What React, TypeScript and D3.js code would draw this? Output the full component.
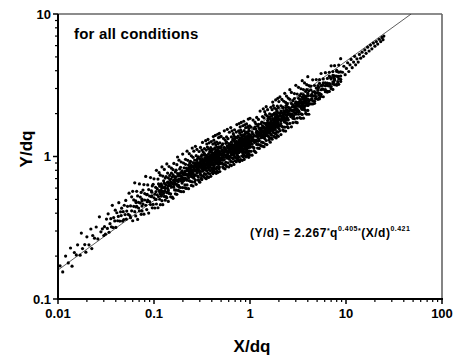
import React from "react";
import * as d3 from "d3";

// ---- scatter data: [X/dq, [Y/dq values at that X]] ----
const tailLow: [number, number[]][] = [
  [0.0105,[0.171]],[0.0112,[0.155]],[0.012,[0.2]],[0.0128,[0.179]],[0.0135,[0.228]],[0.014,[0.17]],[0.0148,[0.212]],[0.0155,[0.204]],[0.016,[0.24]],[0.017,[0.203]],[0.0175,[0.29]],[0.018,[0.226]],[0.019,[0.241]],[0.0195,[0.213]],[0.02,[0.273]],[0.021,[0.24]],[0.022,[0.31]],[0.0225,[0.226]],[0.023,[0.279]],[0.024,[0.267]],[0.025,[0.32]],[0.026,[0.264]],[0.027,[0.377]],[0.028,[0.296]],[0.029,[0.311]],[0.03,[0.279]],
];
const bandA: [number, number[]][] = [
  [0.0305,[0.322]],[0.0312,[0.285]],[0.032,[0.364]],[0.0327,[0.313]],[0.0333,[0.396]],[0.034,[0.294]],[0.0348,[0.338]],[0.0355,[0.366]],[0.036,[0.321]],[0.0368,[0.454]],[0.0375,[0.317]],[0.038,[0.373]],[0.039,[0.353]],[0.0395,[0.42]],[0.04,[0.318]],[0.041,[0.403]],[0.0418,[0.354]],[0.0425,[0.38]],[0.043,[0.474]],[0.044,[0.352]],[0.0448,[0.409]],[0.0455,[0.385]],[0.046,[0.434]],[0.047,[0.352]],[0.0478,[0.41]],[0.0485,[0.361]],[0.049,[0.455]],[0.05,[0.391]],[0.0508,[0.492]],[0.0515,[0.363]],[0.052,[0.414]],[0.053,[0.447]],[0.054,[0.392]],[0.055,[0.553]],[0.056,[0.385]],
];
const bandB: [number, number[]][] = [
  [0.057,[0.45,0.372]],[0.0585,[0.521,0.416]],[0.06,[0.57,0.354]],[0.0615,[0.447,0.496]],[0.063,[0.41,0.654]],[0.0645,[0.383,0.488]],[0.066,[0.446,0.57]],[0.0675,[0.362,0.529]],[0.069,[0.435,0.477]],[0.0705,[0.642,0.415]],[0.072,[0.519,0.471]],[0.0735,[0.56,0.393]],
  [0.075,[0.502,0.415]],[0.0768,[0.581,0.464]],[0.0785,[0.635,0.394]],[0.08,[0.495,0.549]],[0.082,[0.455,0.725]],[0.084,[0.424,0.54]],[0.086,[0.495,0.632]],[0.088,[0.401,0.586]],[0.09,[0.482,0.528]],[0.092,[0.711,0.46]],[0.094,[0.574,0.522]],[0.096,[0.622,0.436]],
  [0.098,[0.461,0.638]],[0.1,[0.513,0.697]],[0.102,[0.435,0.544]],[0.104,[0.608,0.499]],[0.106,[0.8,0.464]],[0.108,[0.595,0.539]],[0.11,[0.694,0.437]],[0.1115,[0.642,0.524]],[0.113,[0.577,0.77]],[0.1145,[0.501,0.62]],
];
const bandC: [number, number[]][] = [
  [0.1165,[0.545,0.74,0.459]],[0.119,[0.578,0.642,0.526]],[0.121,[0.845,0.49,0.624]],[0.1235,[0.57,0.729,0.459]],[0.126,[0.676,0.551,0.605]],[0.128,[0.812,0.525,0.651]],[0.131,[0.597,0.706,0.494]],[0.1335,[0.632,0.523,0.724]],
  [0.136,[0.557,0.887,0.514]],[0.1385,[0.66,0.598,0.765]],[0.141,[0.484,0.708,0.578]],[0.1435,[0.638,0.851,0.551]],[0.146,[0.687,0.624,0.737]],[0.149,[0.521,0.661,0.547]],[0.152,[0.764,0.61,0.828]],[0.155,[0.518,0.647,0.718]],
  [0.158,[0.808,0.509,0.743]],[0.161,[0.611,0.67,0.894]],[0.164,[0.583,0.722,0.655]],[0.167,[0.78,0.547,0.694]],[0.17,[0.58,0.802,0.64]],[0.173,[0.876,0.543,0.679]],[0.176,[0.759,0.622,0.992]],[0.179,[0.578,0.736,0.667]],
  [0.182,[0.942,0.61,0.755]],[0.185,[0.691,0.817,0.572]],[0.189,[0.733,0.606,0.839]],[0.192,[0.674,0.915,0.567]],[0.196,[0.715,0.794,0.651]],[0.199,[1.04,0.605,0.77]],[0.203,[0.704,0.9,0.566]],[0.206,[0.833,0.68,0.746]],
  [0.21,[0.603,0.764,0.632]],[0.213,[0.881,0.703,0.955]],[0.217,[0.597,0.746,0.828]],[0.221,[0.684,1.09,0.632]],[0.225,[0.811,0.735,0.94]],[0.229,[0.595,0.87,0.71]],[0.233,[0.784,1.046,0.677]],[0.236,[0.843,0.765,0.904]],
];
const bandD: [number, number[]][] = [
  [0.24,[0.808,0.668,0.925,0.738]],[0.245,[1.011,0.627,0.784,0.87]],[0.25,[0.719,1.146,0.664,0.845]],[0.255,[0.772,0.987,0.621,0.907]],[0.26,[0.745,0.817,1.089,0.705]],[0.265,[0.88,0.799,0.944,0.662]],
  [0.27,[0.902,0.74,1.179,0.683]],[0.275,[0.875,0.793,1.014,0.638]],[0.28,[0.939,0.766,0.84,1.121]],[0.285,[0.73,0.905,0.822,0.971]],[0.29,[0.685,0.868,0.718,0.994]],[0.295,[0.798,1.084,0.672,0.84]],
  [0.3,[0.66,0.964,0.787,0.863]],[0.305,[1.157,0.749,0.928,0.842]],[0.31,[1.002,0.702,0.89,0.736]],[0.315,[1.025,0.818,1.111,0.689]],[0.32,[0.866,0.961,0.788,1.256]],[0.325,[0.732,0.932,0.845,1.08]],
  [0.33,[0.867,1.025,0.718,0.911]],[0.335,[0.758,1.048,0.837,1.136]],[0.34,[0.709,0.886,0.983,0.806]],[0.345,[1.291,0.748,0.952,0.863]],[0.35,[1.11,0.698,1.02,0.832]],[0.355,[0.918,1.224,0.792,0.981]],
  [0.36,[1.166,0.723,0.904,1.003]],[0.365,[0.827,1.318,0.764,0.973]],[0.37,[0.887,1.133,0.713,1.042]],[0.375,[0.854,0.936,1.248,0.808]],[0.38,[1.005,0.913,1.079,0.756]],[0.385,[0.964,0.797,1.103,0.881]],
  [0.39,[0.996,0.903,1.154,0.726]],[0.395,[1.067,0.87,0.955,1.273]],[0.4,[0.827,1.025,0.931,1.1]],[0.405,[0.774,0.982,0.812,1.123]],[0.41,[0.901,1.223,0.758,0.948]],[0.415,[1.058,0.867,1.382,0.8]],
  [0.42,[1.302,0.842,1.043,0.947]],[0.425,[1.124,0.788,0.999,0.826]],[0.43,[1.148,0.917,1.245,0.772]],[0.435,[0.969,1.076,0.882,1.405]],[0.44,[0.817,1.041,0.944,1.207]],[0.445,[0.762,1.114,0.909,0.997]],
  [0.45,[0.843,1.166,0.931,1.264]],[0.455,[0.787,0.984,1.092,0.895]],[0.46,[1.433,0.83,1.057,0.958]],[0.465,[1.23,0.774,1.131,0.923]],[0.47,[1.016,1.355,0.876,1.086]],[0.475,[0.989,1.169,0.819,1.039]],
  [0.48,[0.913,1.454,0.843,1.073]],[0.485,[0.977,1.249,0.785,1.148]],[0.49,[0.94,1.031,1.375,0.89]],
];
const bandE: [number, number[]][] = [
  [0.5,[1.161,0.947,1.038,1.384]],[0.51,[0.902,1.117,1.015,1.199]],[0.52,[0.845,1.072,0.887,1.227]],[0.53,[0.986,1.339,0.83,1.038]],[0.54,[1.16,0.951,1.515,0.878]],[0.55,[1.125,1.019,1.303,0.82]],
  [0.56,[1.238,0.868,1.1,0.91]],[0.57,[1.266,1.011,1.373,0.851]],[0.58,[1.07,1.188,0.974,1.552]],[0.59,[0.904,1.151,1.044,1.334]],[0.6,[0.844,1.233,1.006,1.104]],[0.61,[1.48,0.957,1.186,1.077]],
  [0.62,[0.875,1.094,1.214,0.996]],[0.63,[1.595,0.924,1.177,1.067]],[0.64,[1.371,0.863,1.261,1.029]],[0.65,[1.133,1.511,0.978,1.211]],[0.66,[1.106,1.307,0.916,1.162]],[0.67,[0.965,1.335,1.066,1.447]],
  [0.68,[1.094,1.399,0.88,1.286]],[0.69,[1.054,1.156,1.541,0.997]],[0.7,[1.242,1.128,1.333,0.934]],[0.71,[1.19,0.984,1.361,1.087]],[0.72,[1.484,0.92,1.15,1.277]],[0.73,[1.051,1.675,0.97,1.236]],
  [0.74,[1.021,1.264,1.148,1.357]],[0.75,[0.956,1.213,1.003,1.388]],[0.76,[1.112,1.511,0.937,1.171]],[0.77,[1.305,1.07,1.705,0.988]],[0.78,[1.264,1.146,1.464,0.921]],[0.79,[1.352,1.103,1.21,1.613]],
  [0.8,[1.416,1.131,1.535,0.952]],[0.81,[1.195,1.326,1.087,1.733]],[0.82,[1.008,1.284,1.164,1.488]],[0.83,[0.94,1.374,1.121,1.229]],[0.84,[1.644,1.064,1.318,1.197]],[0.85,[1.42,0.995,1.263,1.044]],
  [0.86,[1.768,1.024,1.304,1.182]],[0.87,[1.517,0.954,1.394,1.137]],[0.88,[1.253,1.67,1.081,1.339]],[0.89,[1.22,1.441,1.01,1.281]],[0.9,[1.063,1.471,1.174,1.594]],[0.91,[0.993,1.241,1.378,1.129]],
  [0.92,[1.158,1.27,1.693,1.096]],[0.93,[1.361,1.237,1.461,1.024]],[0.94,[1.304,1.078,1.492,1.191]],[0.95,[1.623,1.006,1.258,1.396]],[0.96,[1.148,1.83,1.06,1.35]],[0.97,[1.228,1.57,0.987,1.443]],
  [0.98,[1.041,1.321,1.092,1.511]],[0.99,[1.21,1.643,1.019,1.274]],
];
const bandF: [number, number[]][] = [
  [1.0,[1.278,1.419,1.163,1.853]],[1.025,[1.087,1.385,1.255,1.605]],[1.05,[1.021,1.492,1.217,1.335]],[1.075,[1.801,1.165,1.443,1.311]],[1.1,[1.567,1.098,1.393,1.152]],[1.125,[1.61,1.285,1.745,1.082]],
  [1.15,[1.696,1.067,1.56,1.272]],[1.175,[1.41,1.88,1.216,1.506]],[1.2,[1.382,1.633,1.145,1.452]],[1.225,[1.213,1.678,1.34,1.819]],[1.25,[1.139,1.424,1.581,1.296]],[1.275,[2.085,1.208,1.539,1.395]],
  [1.3,[1.582,1.436,1.698,1.19]],[1.325,[1.524,1.26,1.743,1.392]],[1.35,[1.907,1.182,1.478,1.641]],[1.375,[1.357,2.162,1.252,1.595]],[1.4,[1.459,1.865,1.173,1.715]],[1.425,[1.411,1.547,2.063,1.335]],
  [1.45,[1.454,1.974,1.224,1.53]],[1.475,[1.712,1.403,2.236,1.295]],[1.5,[1.664,1.508,1.928,1.213]],[1.525,[1.786,1.457,1.598,2.131]],[1.55,[1.39,1.722,1.564,1.849]],[1.575,[1.305,1.656,1.369,1.894]],
  [1.6,[1.347,1.716,1.556,1.989]],[1.625,[1.26,1.842,1.503,1.648]],[1.65,[2.214,1.433,1.775,1.612]],[1.675,[1.919,1.345,1.706,1.41]],[1.7,[1.965,1.568,2.13,1.321]],[1.725,[1.663,1.846,1.513,2.411]],
  [1.75,[1.707,2.277,1.473,1.825]],[1.775,[1.669,1.973,1.383,1.753]],[1.8,[1.459,2.019,1.612,2.189]],[1.825,[1.366,1.708,1.896,1.554]],[1.85,[2.494,1.445,1.84,1.668]],[1.875,[2.146,1.35,1.973,1.61]],
  [1.9,[1.812,1.498,2.073,1.655]],[1.925,[2.261,1.402,1.753,1.946]],[1.95,[1.605,2.558,1.482,1.887]],[1.975,[1.722,2.201,1.385,2.024]],[2.0,[1.66,1.821,2.428,1.571]],
];
const bandG: [number, number[]][] = [
  [2.05,[2.006,1.644,2.62,1.518,1.933]],[2.1,[1.773,2.267,1.426,2.084,1.7]],[2.15,[1.887,2.516,1.628,2.017,1.832]],[2.2,[2.189,1.534,1.946,1.609,2.226]],[2.25,[1.797,2.441,1.514,1.892,2.1]],
  [2.3,[1.741,2.774,1.607,2.047,1.856]],[2.35,[2.397,1.508,2.204,1.798,1.972]],[2.4,[2.656,1.719,2.129,1.933,2.285]],[2.45,[1.618,2.052,1.697,2.348,1.874]],[2.5,[2.571,1.594,1.993,2.212,1.814]],
  [2.6,[2.945,1.706,2.173,1.97,2.518]],[2.7,[1.614,2.359,1.924,2.11,2.814]],[2.8,[1.853,2.296,2.085,2.464,1.727]],[2.9,[2.228,1.842,2.549,2.035,2.763]],[3.0,[1.742,2.178,2.418,1.982,3.158]],
  [3.1,[1.86,2.369,2.148,2.745,1.727]],[3.2,[2.564,2.092,2.294,3.059,1.979]],[3.3,[2.488,2.26,2.671,1.872,2.374]],[3.4,[1.992,2.756,2.2,2.988,1.853]],[3.5,[2.349,2.607,2.138,3.406,1.973]],
  [3.6,[2.548,2.31,2.952,1.857,2.714]],[3.7,[2.245,2.462,3.283,2.124,2.631]],[3.8,[2.421,2.861,2.005,2.543,2.103]],[3.9,[2.946,2.352,3.194,1.981,2.476]],[4.0,[2.782,2.28,3.634,2.105,2.681]],
  [4.1,[2.461,3.146,1.979,2.892,2.359]],
];
const bandH: [number, number[]][] = [
  [4.3,[2.675,2.337,2.935,2.493,3.116]],[4.5,[2.337,2.656,2.842,2.47,3.453]],[4.7,[2.444,2.851,2.661,3.149,2.362]],[4.9,[3.021,2.633,2.8,3.465,2.55]],[5.1,[2.999,2.801,3.14,2.518,2.914]],
  [5.3,[2.597,3.26,2.77,3.462,2.539]],[5.5,[2.94,3.146,2.734,3.822,2.646]],[5.8,[3.171,2.96,3.503,2.627,3.292]],[6.1,[2.945,3.131,3.875,2.852,3.286]],[6.4,[3.148,3.53,2.83,3.275,2.862]],
  [6.7,[3.673,3.12,3.9,2.86,3.25]],[7.0,[3.563,3.097,4.329,2.997,3.497]],[7.3,[3.332,3.944,2.958,3.706,3.23]],[7.6,[3.505,4.338,3.192,3.678,3.435]],[8.0,[3.952,3.168,3.667,3.204,4.023]],
  [8.4,[3.504,4.38,3.212,3.65,3.906]],[8.8,[3.478,4.862,3.366,3.927,3.665]],
];
const tailHigh: [number, number[]][] = [
  [9.2,[3.9]],[9.5,[4.3]],[9.8,[3.75]],[10.1,[4.15]],[10.4,[4.55]],[10.7,[3.95]],[11.0,[4.4]],[11.3,[4.8]],[11.6,[4.2]],[12.0,[4.6]],[12.3,[5.05]],[12.6,[4.4]],[13.0,[4.85]],[13.4,[4.6]],[13.8,[5.2]],[14.2,[4.9]],[14.7,[5.4]],
  [15.2,[5.05]],[15.7,[5.6]],[16.2,[5.3]],[16.8,[5.85]],[17.4,[5.5]],[18.0,[6.05]],[18.6,[5.7]],[19.3,[6.25]],[20.0,[5.95]],[20.7,[6.4]],[21.4,[6.15]],[22.2,[6.65]],[23.0,[6.4]],[23.7,[6.85]],[24.3,[6.6]],[24.8,[7.0]],
];
// dense core of the cloud
const core: [number, number[]][] = [
  [0.065,[0.443,0.475]],[0.075,[0.449,0.488]],[0.085,[0.542,0.482]],[0.095,[0.53,0.562]],[0.105,[0.5,0.567]],[0.115,[0.559,0.621]],
  [0.12,[0.563,0.603,0.539]],[0.13,[0.607,0.643,0.571]],[0.14,[0.62,0.657,0.564]],[0.15,[0.657,0.625,0.695]],[0.16,[0.636,0.682,0.61]],[0.17,[0.681,0.721,0.64]],
  [0.18,[0.69,0.731,0.628]],[0.19,[0.727,0.692,0.77]],[0.2,[0.698,0.749,0.67]],[0.21,[0.742,0.786,0.698]],[0.22,[0.75,0.795,0.683]],[0.23,[0.787,0.749,0.833]],
  [0.2425,[0.758,0.812,0.726]],[0.2525,[0.801,0.849,0.753]],[0.2625,[0.804,0.852,0.732]],[0.2725,[0.84,0.8,0.889]],[0.2825,[0.802,0.86,0.769]],[0.2925,[0.846,0.897,0.796]],
  [0.3025,[0.848,0.899,0.772]],[0.3125,[0.885,0.842,0.936]],[0.3225,[0.842,0.903,0.807]],[0.3325,[0.887,0.939,0.834]],[0.3425,[0.888,0.941,0.808]],[0.3525,[0.924,0.879,0.978]],
  [0.3625,[0.879,0.942,0.843]],[0.3725,[0.924,0.979,0.869]],[0.3825,[0.924,0.979,0.841]],[0.3925,[0.961,0.914,1.017]],[0.4025,[0.914,0.98,0.876]],[0.4125,[0.96,1.017,0.903]],
  [0.4225,[0.958,1.015,0.872]],[0.4325,[0.995,0.947,1.053]],[0.4425,[0.946,1.014,0.907]],[0.4525,[0.992,1.051,0.933]],[0.4625,[0.99,1.049,0.901]],[0.4725,[1.028,0.978,1.088]],[0.4825,[0.975,1.045,0.935]],
  [0.505,[1.031,1.092,0.97]],[0.525,[1.035,1.097,0.942]],[0.545,[1.079,1.027,1.142]],[0.565,[1.029,1.103,0.987]],[0.585,[1.084,1.148,1.019]],[0.605,[1.085,1.15,0.987]],
  [0.625,[1.13,1.075,1.196]],[0.645,[1.075,1.152,1.03]],[0.665,[1.131,1.198,1.064]],[0.685,[1.131,1.199,1.029]],[0.705,[1.175,1.118,1.244]],[0.725,[1.117,1.198,1.071]],
  [0.745,[1.175,1.244,1.105]],[0.765,[1.173,1.243,1.067]],[0.785,[1.218,1.159,1.289]],[0.805,[1.157,1.241,1.109]],[0.825,[1.214,1.286,1.142]],[0.845,[1.212,1.285,1.103]],
  [0.865,[1.258,1.197,1.331]],[0.885,[1.193,1.279,1.144]],[0.905,[1.251,1.326,1.177]],[0.925,[1.247,1.322,1.135]],[0.945,[1.294,1.231,1.369]],[0.965,[1.226,1.315,1.176]],[0.985,[1.285,1.361,1.208]],
  [1.0125,[1.286,1.363,1.17]],[1.0625,[1.357,1.291,1.436]],[1.1125,[1.306,1.4,1.252]],[1.1625,[1.389,1.471,1.306]],[1.2125,[1.403,1.487,1.277]],[1.2625,[1.474,1.402,1.56]],
  [1.3125,[1.414,1.516,1.356]],[1.3625,[1.5,1.589,1.411]],[1.4125,[1.511,1.602,1.375]],[1.4625,[1.582,1.505,1.674]],[1.5125,[1.514,1.623,1.452]],[1.5625,[1.602,1.697,1.507]],
  [1.6125,[1.61,1.707,1.465]],[1.6625,[1.683,1.601,1.781]],[1.7125,[1.607,1.723,1.541]],[1.7625,[1.697,1.798,1.596]],[1.8125,[1.703,1.805,1.55]],[1.8625,[1.777,1.691,1.88]],
  [1.9125,[1.695,1.817,1.625]],[1.9625,[1.787,1.893,1.681]],
  [2.075,[1.818,1.927,1.654]],[2.175,[1.916,1.823,2.027]],[2.275,[1.846,1.979,1.77]],[2.375,[1.962,2.079,1.846]],[2.475,[1.983,2.102,1.805]],[2.55,[2.072,1.972,2.193]],
  [2.65,[1.989,2.132,1.907]],[2.75,[2.109,2.234,1.984]],[2.85,[2.124,2.251,1.933]],[2.95,[2.225,2.117,2.354]],[3.05,[2.13,2.284,2.042]],[3.15,[2.253,2.387,2.119]],
  [3.25,[2.266,2.402,2.062]],[3.35,[2.369,2.254,2.507]],[3.45,[2.263,2.426,2.17]],[3.55,[2.389,2.531,2.247]],[3.65,[2.398,2.542,2.182]],[3.75,[2.503,2.381,2.649]],
  [3.85,[2.387,2.559,2.289]],[3.95,[2.516,2.665,2.366]],[4.05,[2.521,2.672,2.294]],
  [4.4,[2.548,2.732]],[4.8,[2.552,2.771]],[5.2,[3.057,2.714]],[5.65,[2.98,3.159]],[6.25,[2.857,3.234]],[6.85,[3.224,3.586]],[7.45,[3.337,3.578]],[8.2,[3.348,3.636]],
];
const columns = [...tailLow, ...bandA, ...bandB, ...bandC, ...bandD, ...bandE, ...bandF, ...bandG, ...bandH, ...tailHigh, ...core];
const points: [number, number][] = columns.flatMap(([xv, ys]) => ys.map((yv) => [xv, yv] as [number, number]));

// power-law fit line drawn on the chart: Y = fitA * X^fitB
const fitA = 1.514;
const fitB = 0.4885;

const xDomain: [number, number] = [0.01, 100];
const yDomain: [number, number] = [0.1, 10];
const xMajor = [0.01, 0.1, 1, 10, 100];
const xMajorLabels = ["0.01", "0.1", "1", "10", "100"];
const yMajor = [0.1, 1, 10];
const yMajorLabels = ["0.1", "1", "10"];

const W = 455, H = 363;
const M = { left: 58, right: 442, top: 14, bottom: 299 };
const FONT = "'Liberation Sans', Arial, sans-serif";

export default function App() {
  const x = d3.scaleLog().domain(xDomain).range([M.left, M.right]);
  const y = d3.scaleLog().domain(yDomain).range([M.bottom, M.top]);

  const xMinor = x.ticks().filter((t) => !xMajor.some((m) => Math.abs(m - t) / m < 1e-6));
  const yMinor = y.ticks().filter((t) => !yMajor.some((m) => Math.abs(m - t) / m < 1e-6));

  const xEnd = Math.pow(yDomain[1] / fitA, 1 / fitB);
  const fitPts: [number, number][] = [
    [xDomain[0], fitA * Math.pow(xDomain[0], fitB)],
    [xEnd, fitA * Math.pow(xEnd, fitB)],
  ];
  const line = d3.line<[number, number]>().x((d) => x(d[0])).y((d) => y(d[1]));

  return (
    <svg width={W} height={H} style={{ position: "absolute", left: 0, top: 0, background: "#fff" }} fontFamily={FONT}>
      <rect x={0} y={0} width={W} height={H} fill="#fff" />
      <defs>
        <clipPath id="plot">
          <rect x={M.left} y={M.top} width={M.right - M.left} height={M.bottom - M.top} />
        </clipPath>
      </defs>
      <line x1={M.left} x2={M.right} y1={M.top} y2={M.top} stroke="#666" strokeWidth={1.3} />
      <line x1={M.right} x2={M.right} y1={M.top} y2={M.bottom} stroke="#666" strokeWidth={1.6} />

      <g clipPath="url(#plot)">
        <path d={line(fitPts) || ""} stroke="#333" strokeWidth={0.8} fill="none" />
        {points.map((p, i) => (
          <circle key={i} cx={x(p[0])} cy={y(p[1])} r={1.6} fill="#000" />
        ))}
      </g>

      <line x1={M.left} x2={M.right + 1} y1={M.bottom} y2={M.bottom} stroke="#000" strokeWidth={2} />
      <line x1={M.left} x2={M.left} y1={M.top} y2={M.bottom + 1} stroke="#000" strokeWidth={2} />

      {xMajor.map((t, i) => (
        <g key={"xm" + i}>
          <line x1={x(t)} x2={x(t)} y1={M.bottom} y2={M.bottom + 5} stroke="#000" strokeWidth={1.5} />
          <text x={x(t)} y={M.bottom + 19} textAnchor="middle" fontSize={13} fontWeight="bold" fill="#000">
            {xMajorLabels[i]}
          </text>
        </g>
      ))}
      {xMinor.map((t, i) => (
        <line key={"xn" + i} x1={x(t)} x2={x(t)} y1={M.bottom} y2={M.bottom + 3} stroke="#000" strokeWidth={1.2} />
      ))}
      {yMajor.map((t, i) => (
        <g key={"ym" + i}>
          <line x1={M.left - 5} x2={M.left} y1={y(t)} y2={y(t)} stroke="#000" strokeWidth={1.5} />
          <text x={M.left - 7} y={y(t) + 4.6} textAnchor="end" fontSize={13} fontWeight="bold" fill="#000">
            {yMajorLabels[i]}
          </text>
        </g>
      ))}
      {yMinor.map((t, i) => (
        <line key={"yn" + i} x1={M.left - 3} x2={M.left} y1={y(t)} y2={y(t)} stroke="#000" strokeWidth={1.2} />
      ))}

      <text x={252} y={352} textAnchor="middle" fontSize={17} fontWeight="bold" fill="#000">X/dq</text>
      <text transform="translate(32,149) rotate(-90)" textAnchor="middle" fontSize={17} fontWeight="bold" fill="#000">Y/dq</text>

      <text x={74} y={39} fontSize={15} letterSpacing={0.2} fontWeight="bold" fill="#000">for all conditions</text>

      <text x={250} y={237} fontSize={12} letterSpacing={0.5} fontWeight="bold" fill="#000">
        <tspan>(Y/d) = 2.267</tspan>
        <tspan fontSize={7} dy={-4}>*</tspan>
        <tspan dy={4}>q</tspan>
        <tspan fontSize={7} dy={-6.5}>0.405</tspan>
        <tspan fontSize={7} dy={2.5}>*</tspan>
        <tspan dy={4}>(X/d)</tspan>
        <tspan fontSize={7} dy={-6.5}>0.421</tspan>
      </text>
    </svg>
  );
}
